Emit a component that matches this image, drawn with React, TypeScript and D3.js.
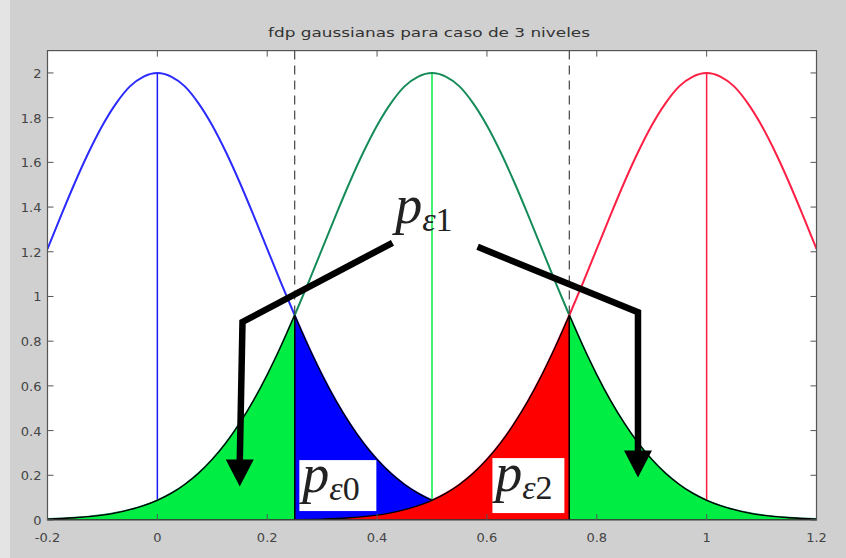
import React from 'react';
import * as d3 from 'd3';

// gaussian shape: height at distance from the mean
const offsets = [
  0, 0.025, 0.05, 0.075, 0.1, 0.125, 0.15, 0.175, 0.2, 0.225, 0.25, 0.275, 0.3, 0.325, 0.35, 0.375,
  0.4, 0.425, 0.45, 0.475, 0.5, 0.525, 0.55, 0.575, 0.6, 0.625, 0.65, 0.7, 0.75, 0.8, 0.9, 1.0, 1.1, 1.2,
];
const density = [
  2, 1.984, 1.94, 1.864, 1.765, 1.645, 1.51, 1.364, 1.213, 1.062, 0.916, 0.777, 0.649, 0.534, 0.433, 0.345,
  0.271, 0.209, 0.159, 0.119, 0.088, 0.064, 0.046, 0.032, 0.022, 0.015, 0.01, 0.004, 0.002, 0.001, 0, 0, 0, 0,
];

const means = [0, 0.5, 1];
const lineColors = ['#2b2bff', '#168c5a', '#ff2045'];
const stemColors = ['#1a1aff', '#00ee44', '#ff1a40'];

// shaded error regions [mean index, from, to, colour]
const regions: [number, number, number, string][] = [
  [0, 0.25, 0.75, '#0000ff'],
  [2, 0.25, 0.75, '#ff0000'],
  [1, -0.2, 0.25, '#00ee44'],
  [1, 0.75, 1.2, '#00ee44'],
];
const thresholds = [0.25, 0.75];

const xTicks = [-0.2, 0, 0.2, 0.4, 0.6, 0.8, 1, 1.2];
const yTicks = [0, 0.2, 0.4, 0.6, 0.8, 1, 1.2, 1.4, 1.6, 1.8, 2];

const W = 846;
const H = 558;
const title = 'fdp gaussianas para caso de 3 niveles';

const x = d3.scaleLinear().domain([-0.2, 1.2]).range([47.5, 816.5]);
const y = d3.scaleLinear().domain([0, 2.1]).range([520, 50.6]);

type Pt = [number, number];

function curvePoints(m: number): Pt[] {
  const pts: Pt[] = [];
  offsets.forEach((o, i) => {
    pts.push([m - o, density[i]]);
    if (o > 0) pts.push([m + o, density[i]]);
  });
  return pts
    .filter((p) => p[0] >= -0.2 - 1e-9 && p[0] <= 1.2 + 1e-9)
    .sort((a, b) => a[0] - b[0]);
}

const line = d3
  .line<Pt>()
  .x((d) => x(d[0]))
  .y((d) => y(d[1]))
  .curve(d3.curveMonotoneX);

const area = d3
  .area<Pt>()
  .x((d) => x(d[0]))
  .y0(y(0))
  .y1((d) => y(d[1]))
  .curve(d3.curveMonotoneX);

// annotations in data units
const labelFont = '"Liberation Serif", "Times New Roman", serif';

const Label = ({ lx, ly, sub }: { lx: number; ly: number; sub: string }) => (
  <text x={x(lx)} y={y(ly)} fill="#222" fontFamily={labelFont}>
    <tspan fontStyle="italic" fontSize={54}>p</tspan>
    <tspan fontStyle="italic" fontSize={34} dy={8}>ε</tspan>
    <tspan fontSize={34}>{sub}</tspan>
  </text>
);

const Arrow = ({ pts }: { pts: Pt[] }) => {
  const tip = pts[pts.length - 1];
  const tx = x(tip[0]);
  const ty = y(tip[1]);
  const stem = pts.map((p) => [x(p[0]), y(p[1])] as Pt);
  stem[stem.length - 1] = [tx, ty - 24];
  return (
    <g>
      <path d={d3.line()(stem) || ''} fill="none" stroke="#000" strokeWidth={6.5} strokeLinejoin="miter" />
      <polygon points={`${tx - 14},${ty - 27} ${tx + 14},${ty - 27} ${tx},${ty}`} fill="#000" />
    </g>
  );
};

const leftArrow: Pt[] = [[0.428, 1.24], [0.155, 0.886], [0.15, 0.15]];
const rightArrow: Pt[] = [[0.583, 1.222], [0.875, 0.93], [0.875, 0.19]];

export default function App() {
  const curves = means.map(curvePoints);
  const [x0, x1] = x.range();
  const [yb, yt] = y.range();
  const axisFont = '"DejaVu Sans", sans-serif';

  return (
    <svg width={W} height={H} style={{ position: 'absolute', left: 0, top: 0 }}>
      <defs>
        <clipPath id="plot">
          <rect x={x0} y={yt} width={x1 - x0} height={yb - yt} />
        </clipPath>
      </defs>
      <rect width={W} height={H} fill="#d0d0d0" />
      <rect x={0} y={0} width={10} height={H} fill="#e4e4e4" />
      <rect x={x0} y={yt} width={x1 - x0} height={yb - yt} fill="#fff" />

      <g clipPath="url(#plot)">
        {means.map((m, i) => (
          <line key={'s' + i} x1={x(m)} x2={x(m)} y1={y(0)} y2={y(2)} stroke={stemColors[i]} strokeWidth={1.5} />
        ))}
        {curves.map((c, i) => (
          <path key={'c' + i} d={line(c) || ''} fill="none" stroke={lineColors[i]} strokeWidth={2} />
        ))}
        {regions.map(([mi, a, b, col], i) => {
          const pts = curves[mi].filter((p) => p[0] >= a - 1e-9 && p[0] <= b + 1e-9);
          return <path key={'r' + i} d={area(pts) || ''} fill={col} stroke="#000" strokeWidth={1.3} />;
        })}
        {thresholds.map((t) => (
          <line key={'t' + t} x1={x(t)} x2={x(t)} y1={y(2.1)} y2={y(0.92)} stroke="#444" strokeWidth={1.2} strokeDasharray="9,6" />
        ))}
      </g>

      {/* axes box and inward ticks */}
      <rect x={x0} y={yt} width={x1 - x0} height={yb - yt} fill="none" stroke="#555" strokeWidth={1.2} />
      {xTicks.map((t) => (
        <g key={'xt' + t}>
          <line x1={x(t)} x2={x(t)} y1={yb} y2={yb - 6} stroke="#555" />
          <line x1={x(t)} x2={x(t)} y1={yt} y2={yt + 6} stroke="#555" />
          <text x={x(t)} y={yb + 22} textAnchor="middle" fontFamily={axisFont} fontSize={13} fill="#444">
            {String(t)}
          </text>
        </g>
      ))}
      {yTicks.map((t) => (
        <g key={'yt' + t}>
          <line x1={x0} x2={x0 + 6} y1={y(t)} y2={y(t)} stroke="#555" />
          <line x1={x1} x2={x1 - 6} y1={y(t)} y2={y(t)} stroke="#555" />
          <text x={x0 - 6} y={y(t) + 5} textAnchor="end" fontFamily={axisFont} fontSize={13} fill="#444">
            {String(t)}
          </text>
        </g>
      ))}
      <text x={429} y={37} textAnchor="middle" fontFamily={axisFont} fontSize={13} fill="#333" textLength={322} lengthAdjust="spacingAndGlyphs">
        {title}
      </text>

      {/* annotations */}
      <Arrow pts={leftArrow} />
      <Arrow pts={rightArrow} />
      <rect x={x(0.2585)} y={y(0.268)} width={x(0.3987) - x(0.2585)} height={y(0.04) - y(0.268)} fill="#fff" />
      <rect x={x(0.61)} y={y(0.277)} width={x(0.741) - x(0.61)} height={y(0.031) - y(0.277)} fill="#fff" />
      <Label lx={0.433} ly={1.33} sub="1" />
      <Label lx={0.264} ly={0.125} sub="0" />
      <Label lx={0.615} ly={0.13} sub="2" />
    </svg>
  );
}
